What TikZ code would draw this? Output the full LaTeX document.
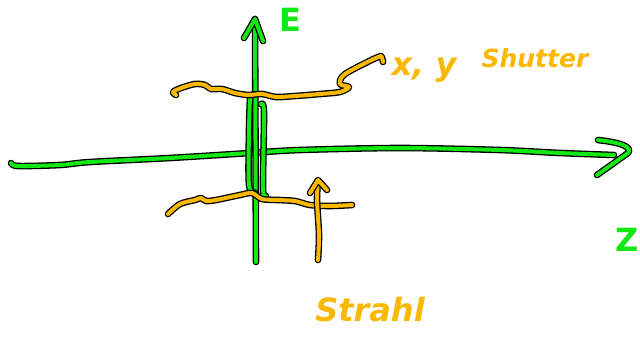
\documentclass[tikz,border=0pt]{standalone}
\usepackage{fontspec}
\setmainfont{DejaVu Sans}
\definecolor{pgreen}{RGB}{20,232,20}
\definecolor{porange}{RGB}{250,184,0}
\tikzset{
  outl/.style={line width=6.6pt,black,line cap=round,line join=round},
  gpen/.style={line width=4pt,pgreen,line cap=round,line join=round},
  open/.style={line width=4pt,porange,line cap=round,line join=round},
  glabel/.style={text=pgreen,font=\fontsize{32}{32}\selectfont\bfseries,inner sep=0pt},
  olabel/.style={text=porange,font=\fontsize{32}{32}\selectfont\bfseries\itshape,inner sep=0pt},
}
\newcommand\penstroke[2]{\draw[outl] #2; \draw[#1] #2;}
\begin{document}
\begin{tikzpicture}[x=1pt,y=-1pt]
\useasboundingbox[fill=white] (0,0) rectangle (640,338);
% coordinates
\coordinate (vbot) at (256,262);
\coordinate (vtop) at (255,19);
\coordinate (hleft) at (11,163);
\coordinate (hright) at (614,155);
% horizontal axis (z)
\penstroke{gpen}{plot[smooth,tension=0.5] coordinates {(hleft) (18,166) (60,165) (90,162) (170,158) (250,153) (300,150) (400,148) (500,150) (560,153) (hright)}}
\penstroke{gpen}{(598,140) .. controls (625,143) and (632,148) .. (628,153) -- (597,175)}
% vertical axis (E)
\penstroke{gpen}{(vbot) -- (vtop)}
\penstroke{gpen}{(244,38) -- (vtop) -- (263,41)}
% strokes along the axis
\penstroke{gpen}{plot[smooth] coordinates {(250,98) (249,130) (249,185) (256,193)}}
\penstroke{gpen}{plot[smooth] coordinates {(261,104) (264,112) (263,188) (266,196) (262,196)}}
% top orange line (x,y shutter)
\penstroke{open}{plot[smooth,tension=0.5] coordinates {(176,95) (173,92) (181,88) (195,84) (205,85) (211,89) (222,89) (235,93) (248,95) (262,94) (276,97) (295,96) (320,94) (340,92) (349,87) (340,84) (345,74) (378,57) (382,58) (383,62)}}
% bottom orange line
\penstroke{open}{plot[smooth,tension=0.5] coordinates {(168,214) (180,204) (195,200) (201,198) (206,201) (216,200) (240,195) (252,193) (262,199) (278,200) (295,201) (310,205) (330,206) (352,205)}}
% orange up arrow (Strahl)
\penstroke{open}{plot[smooth] coordinates {(318,260) (319,235) (317,200) (318,181)}}
\penstroke{open}{(310,193) -- (318,180) -- (327,190)}
% labels
\node[glabel] (E) at (290,20) {E};
\node[glabel,anchor=east] (Z) at (639,240) {Z};
\node[olabel] (xy) at (424,70) {x, y};
\node[olabel,font=\fontsize{25}{25}\selectfont\bfseries\itshape] (shutter) at (535,58) {Shutter};
\node[olabel] (strahl) at (370,310) {Strahl};
\end{tikzpicture}
\end{document}
